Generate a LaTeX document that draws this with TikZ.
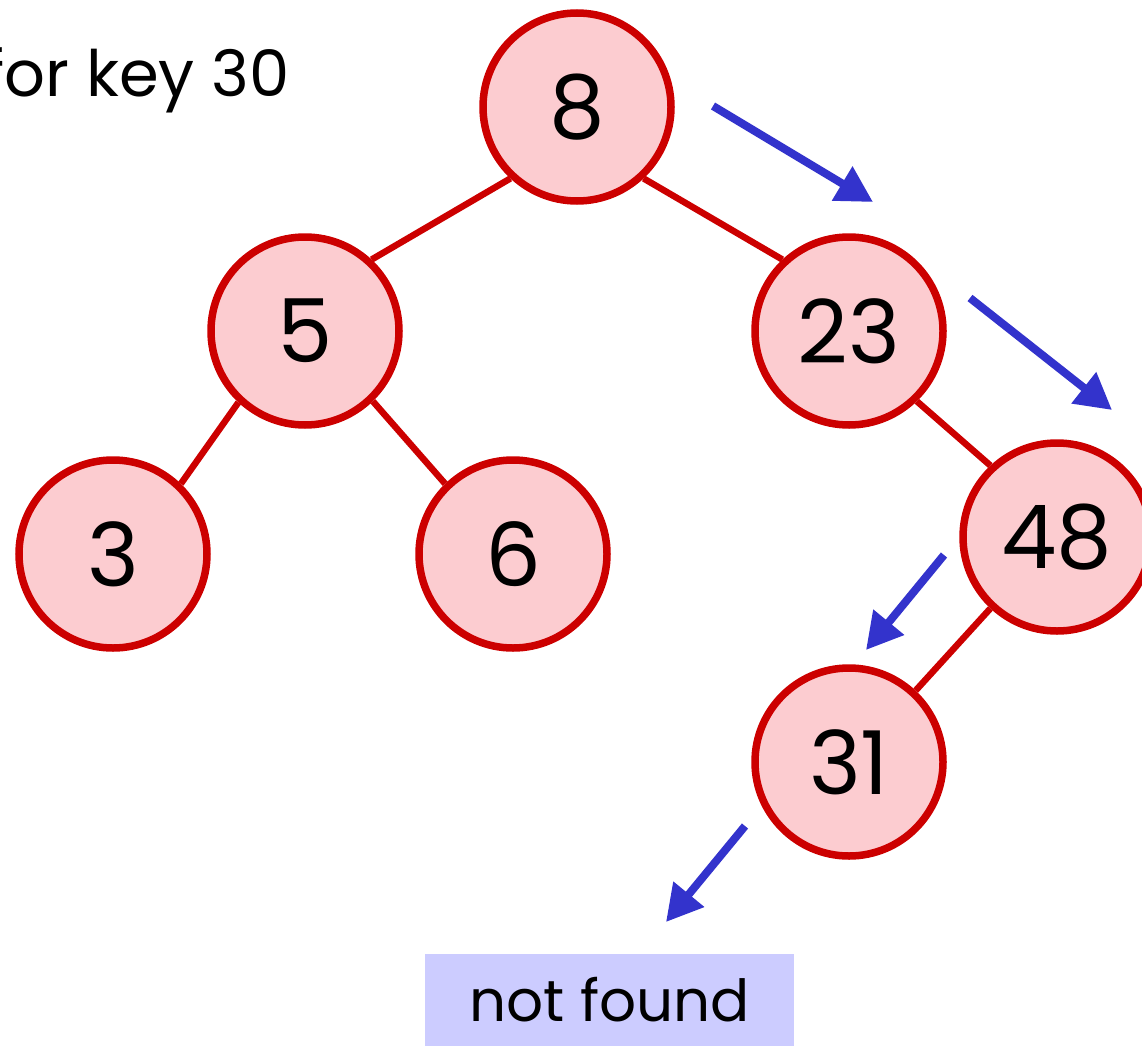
\documentclass[tikz,border=0pt]{standalone}
\usepackage{fontspec}
\setmainfont{Poppins}
\usetikzlibrary{arrows.meta}
\definecolor{nodered}{RGB}{204,0,0}
\definecolor{nodepink}{RGB}{252,204,208}
\definecolor{pathblue}{RGB}{51,51,204}
\definecolor{boxblue}{RGB}{204,204,255}
\begin{document}
\begin{tikzpicture}[x=1pt,y=-1pt,
  keynode/.style={circle, draw=nodered, fill=nodepink, line width=7.5pt,
    minimum size=188pt, inner sep=0pt, font=\fontsize{88}{88}\selectfont},
  treeedge/.style={draw=nodered, line width=6.5pt},
  searchstep/.style={draw=pathblue, line width=8pt,
    -{Triangle[length=36pt,width=38pt]}},
  caption/.style={inner sep=0pt, font=\fontsize{64}{64}\selectfont}]
\useasboundingbox (0,0) rectangle (1142,1046);
\clip (0,0) rectangle (1142,1046);

% search key
\node[caption, anchor=base east] (title) at (290,97) {for key 30};

% tree nodes
\node[keynode] (n8) at (577,107) {8};
\node[keynode] (n5) at (305,331) {5};
\node[keynode] (n23) at (849,331) {23};
\node[keynode] (n3) at (113,554) {3};
\node[keynode] (n6) at (513,554) {6};
\node[keynode] (n48) at (1057,537) {48};
\node[keynode] (n31) at (849,762) {31};

% tree edges, from the lower rim of a parent to the upper rim of its child
\draw[treeedge] (n8.227) -- (n5.47);
\draw[treeedge] (n8.313) -- (n23.133);
\draw[treeedge] (n5.227) -- (n3.46);
\draw[treeedge] (n5.314) -- (n6.134);
\draw[treeedge] (n23.314) -- (n48.133);
\draw[treeedge] (n48.227) -- (n31.47);

% search path
\coordinate (s1) at (713,106);  \coordinate (e1) at (873,202);
\coordinate (s2) at (970,298);  \coordinate (e2) at (1112,410);
\coordinate (s3) at (944,555);  \coordinate (e3) at (866,650);
\coordinate (s4) at (745,826);  \coordinate (e4) at (666,922);
\draw[searchstep] (s1) -- (e1);
\draw[searchstep] (s2) -- (e2);
\draw[searchstep] (s3) -- (e3);
\draw[searchstep] (s4) -- (e4);

% result
\node[fill=boxblue, minimum width=369pt, minimum height=92pt, inner sep=0pt,
  font=\fontsize{58}{58}\selectfont] (result) at (609.5,1000) {not found};
\end{tikzpicture}
\end{document}
